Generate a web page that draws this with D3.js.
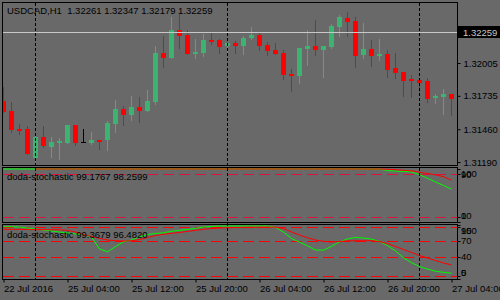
<!DOCTYPE html>
<html>
<head>
<meta charset="utf-8">
<title>USDCAD,H1</title>
<style>
  body { margin: 0; background: #696969; }
  svg { display: block; }
  text { font-family: "Liberation Sans", Arial, sans-serif; font-size: 9.5px; fill: #000; }
</style>
</head>
<body>
<script src="https://d3js.org/d3.v7.min.js"></script>
<script>
// USDCAD H1 bars, 22 Jul 2016 20:00 .. 27 Jul 04:00
var opens  = [1.31695,1.31608,1.31464,1.31460,1.31226,1.31399,1.31314,1.31347,1.31349,1.31495,
              1.31352,1.31344,1.31371,1.31369,1.31503,1.31627,1.31577,1.31643,1.31610,1.31687,
              1.32090,1.32049,1.32279,1.32238,1.32082,1.32090,1.32197,1.32197,1.32148,1.32172,
              1.32148,1.32213,1.32238,1.32156,1.32115,1.32090,1.31917,1.31901,1.32123,1.32148,
              1.32115,1.32139,1.32304,1.32376,1.32351,1.32073,1.32120,1.32065,1.32082,1.31966,
              1.31934,1.31876,1.31868,1.31859,1.31720,1.31728,1.31752];
var highs  = [1.31805,1.31684,1.31503,1.31487,1.31418,1.31487,1.31399,1.31388,1.31495,1.31495,
              1.31462,1.31437,1.31371,1.31528,1.31701,1.31651,1.31731,1.31725,1.31785,1.32145,
              1.32227,1.32384,1.32414,1.32277,1.32203,1.32241,1.32255,1.32205,1.32172,1.32189,
              1.32227,1.32301,1.32252,1.32178,1.32172,1.32115,1.31956,1.32129,1.32277,1.32359,
              1.32148,1.32326,1.32400,1.32425,1.32384,1.32334,1.32194,1.32203,1.32112,1.32090,
              1.31934,1.31909,1.31868,1.31884,1.31752,1.31794,1.31752];
var lows   = [1.31604,1.31440,1.31423,1.31256,1.31201,1.31311,1.31234,1.31218,1.31346,1.31330,
              1.31352,1.31338,1.31300,1.31289,1.31440,1.31495,1.31536,1.31522,1.31610,1.31670,
              1.31972,1.32049,1.32131,1.32082,1.32049,1.32065,1.32164,1.32090,1.32090,1.32090,
              1.32082,1.32205,1.32115,1.32073,1.32082,1.31876,1.31777,1.31843,1.31991,1.32073,
              1.31892,1.32131,1.32230,1.32230,1.31975,1.32049,1.31983,1.32032,1.31892,1.31884,
              1.31736,1.31728,1.31777,1.31687,1.31678,1.31588,1.31580];
var closes = [1.31604,1.31456,1.31448,1.31256,1.31399,1.31325,1.31355,1.31363,1.31495,1.31347,
              1.31352,1.31371,1.31355,1.31511,1.31627,1.31577,1.31643,1.31610,1.31692,1.32090,
              1.32049,1.32279,1.32230,1.32082,1.32098,1.32194,1.32180,1.32139,1.32172,1.32148,
              1.32211,1.32238,1.32148,1.32106,1.32082,1.31909,1.31901,1.32129,1.32148,1.32115,
              1.32148,1.32310,1.32384,1.32345,1.32065,1.32120,1.32065,1.32082,1.31950,1.31925,
              1.31859,1.31859,1.31843,1.31711,1.31736,1.31752,1.31711];

// doda-stochastic (window 1)
var stoch1Main = [100,100,100,100,100,100,100,100,100,100,100,100,100,100,100,100,100,100,100,100,
                  100,100,100,100,100,100,100,100,100,100,100,100,100,100,100,100,100,100,100,100,
                  100,100,100,100,100,100,100,100,97,96,95.5,94.5,89.5,82.5,75.5,69,62];
var stoch1Sig  = [null,null,null,null,100,100,100,100,100,100,100,100,100,100,100,100,100,100,100,100,
                  100,100,100,100,100,100,100,100,100,100,100,100,100,100,100,100,100,100,100,100,
                  100,100,100,100,100,100,100,100,99.5,98.7,97.5,96.5,94,91.5,89,85.5,79];
// doda-stochastic (window 2)
var stoch2Main = [96.1,96.1,95.5,93.7,91.8,90.0,88.1,86.3,84.5,82.6,81.7,77.1,54.9,49.9,59.1,68.4,71.5,77.1,81.7,83.5,
                  84.8,87.6,89.4,90.9,93.1,95.5,96.5,97.4,97.4,97.4,97.4,97.4,97.4,97.4,94.9,86.3,74.3,67.8,60.8,53.0,
                  52.7,59.7,68.0,73.5,76.3,75.2,73.2,68.9,61.4,51.4,38.8,29.6,22.5,17.9,13.9,11.8,10.0];
var stoch2Sig  = [91.3,91.2,91.1,91.0,90.8,90.7,90.5,90.4,89.4,86.3,81.7,78.0,74.7,71.5,70.2,69.7,70.2,72.4,76.1,79.8,
                  82.1,83.9,85.4,87.6,89.4,91.3,92.8,93.7,94.2,94.6,94.9,95.1,95.2,95.3,95.2,92.8,86.3,80.8,75.6,71.5,
                  69.1,67.8,68.7,70.0,70.2,70.2,70.2,68.7,65.0,59.5,54.0,48.4,42.9,38.3,33.6,29.0,25.3];

var priceTicks = [1.32005, 1.31735, 1.31460, 1.31190];
var bidPrice = 1.32259;
var levels1 = [90, 10];
var levels2 = [95, 70, 40, 5];
var labels1 = [100, 90, 10, 0];
var labels2 = [100, 95, 70, 40, 5, 0];
var timeIdx = [0, 8, 16, 24, 32, 40, 48, 56];
var timeLabels = ["22 Jul 2016", "25 Jul 04:00", "25 Jul 12:00", "25 Jul 20:00",
                  "26 Jul 04:00", "26 Jul 12:00", "26 Jul 20:00", "27 Jul 04:00"];
var daySeps = [4, 28, 52];

var width = 500, height = 300;
var green = "#3cb371", red = "#ff0000";

var svg = d3.select("body").append("svg")
    .attr("width", width).attr("height", height);

var x = d3.scaleLinear().domain([0, 56]).range([3.5, 451.5]);
var yMain = d3.scaleLinear().domain([1.311656, 1.324989]).range([165, 3]);
var y1 = d3.scaleLinear().domain([0, 100]).range([222, 169]);
var y2 = d3.scaleLinear().domain([0, 100]).range([278.7, 224.6]);

// panels: [top, bottom]
var panels = [[2.5, 165.5], [167.5, 222.5], [224.5, 279.5]];
var defs = svg.append("defs");
panels.forEach(function (p, i) {
    defs.append("clipPath").attr("id", "clip" + i)
        .append("rect").attr("x", 3).attr("y", p[0] + 0.5)
        .attr("width", 454).attr("height", p[1] - p[0] - 1);
});

var bars = d3.range(opens.length).map(function (i) {
    return { i: i, o: opens[i], h: highs[i], l: lows[i], c: closes[i] };
});
function barColor(d) {
    if (d.c > d.o) return green;
    if (d.c < d.o) return red;
    return "#000";
}

// main chart
var gMain = svg.append("g").attr("clip-path", "url(#clip0)");

gMain.selectAll("line.wick")
    .data(bars)
    .enter()
    .append("line")
    .attr("class", "wick")
    .attr("x1", function (d) { return x(d.i); })
    .attr("x2", function (d) { return x(d.i); })
    .attr("y1", function (d) { return Math.round(yMain(d.h)); })
    .attr("y2", function (d) { return Math.round(yMain(d.l)) + 1; })
    .attr("stroke", barColor)
    .attr("shape-rendering", "crispEdges");

gMain.selectAll("rect.body")
    .data(bars)
    .enter()
    .append("rect")
    .attr("class", "body")
    .attr("x", function (d) { return x(d.i) - 2.5; })
    .attr("width", 5)
    .attr("y", function (d) { return Math.round(yMain(Math.max(d.o, d.c))); })
    .attr("height", function (d) {
        return Math.max(1, Math.round(yMain(Math.min(d.o, d.c))) - Math.round(yMain(Math.max(d.o, d.c))));
    })
    .attr("fill", barColor)
    .attr("shape-rendering", "crispEdges");

// bid line
var yBid = Math.round(yMain(bidPrice)) + 0.5;
svg.append("line")
    .attr("x1", 3).attr("x2", 457)
    .attr("y1", yBid).attr("y2", yBid)
    .attr("stroke", "#c8c8c8");

// level lines
var g1 = svg.append("g").attr("clip-path", "url(#clip1)");
var g2 = svg.append("g").attr("clip-path", "url(#clip2)");

g1.selectAll("line.level")
    .data(levels1)
    .enter()
    .append("line")
    .attr("x1", 3).attr("x2", 457)
    .attr("y1", function (d) { return Math.round(y1(d)) + 0.5; })
    .attr("y2", function (d) { return Math.round(y1(d)) + 0.5; })
    .attr("stroke", "#dc143c")
    .attr("stroke-dasharray", "11,5");

g2.selectAll("line.level")
    .data(levels2)
    .enter()
    .append("line")
    .attr("x1", 3).attr("x2", 457)
    .attr("y1", function (d) { return Math.round(y2(d)) + 0.5; })
    .attr("y2", function (d) { return Math.round(y2(d)) + 0.5; })
    .attr("stroke", red)
    .attr("stroke-dasharray", "11,5");

// stochastic lines
function stochLine(ys) {
    return d3.line()
        .defined(function (d) { return d != null; })
        .x(function (d, i) { return x(i); })
        .y(function (d) { return ys(d); });
}
g1.append("path").datum(stoch1Main)
    .attr("d", stochLine(y1)).attr("fill", "none").attr("stroke", "#00ff00");
g1.append("path").datum(stoch1Sig)
    .attr("d", stochLine(y1)).attr("fill", "none").attr("stroke", red);
g2.append("path").datum(stoch2Main)
    .attr("d", stochLine(y2)).attr("fill", "none").attr("stroke", "#00ff00");
g2.append("path").datum(stoch2Sig)
    .attr("d", stochLine(y2)).attr("fill", "none").attr("stroke", red);

// day separators
svg.selectAll("line.sep")
    .data(daySeps)
    .enter()
    .append("line")
    .attr("x1", function (d) { return x(d); })
    .attr("x2", function (d) { return x(d); })
    .attr("y1", 3).attr("y2", 279)
    .attr("stroke", "#000")
    .attr("stroke-dasharray", "3,2");

// panel borders
svg.selectAll("rect.panel")
    .data(panels)
    .enter()
    .append("rect")
    .attr("x", 2.5).attr("width", 455)
    .attr("y", function (d) { return d[0]; })
    .attr("height", function (d) { return d[1] - d[0]; })
    .attr("fill", "none")
    .attr("stroke", "#000")
    .attr("shape-rendering", "crispEdges");

// header texts
svg.append("text").attr("x", 7).attr("y", 14.3)
    .style("white-space", "pre")
    .text("USDCAD,H1  1.32261 1.32347 1.32179 1.32259");
svg.append("text").attr("x", 7).attr("y", 180)
    .text("doda-stochastic 99.1767 98.2599");
svg.append("text").attr("x", 7).attr("y", 237.5)
    .text("doda-stochastic 99.3679 96.4820");

// price axis
var priceAxis = d3.axisRight(yMain)
    .tickValues(priceTicks)
    .tickSize(3)
    .tickPadding(3)
    .tickFormat(d3.format(".5f"));
var gPrice = svg.append("g").attr("transform", "translate(457.5,0)").call(priceAxis);
gPrice.select(".domain").remove();
gPrice.selectAll("line").attr("stroke", "#000");
gPrice.selectAll("text").attr("fill", "#000")
    .style("font-family", "Liberation Sans, Arial, sans-serif").style("font-size", "9.5px");

// bid label
svg.append("rect")
    .attr("x", 458).attr("y", yBid - 6.5)
    .attr("width", 42).attr("height", 12)
    .attr("fill", "#000");
svg.append("text")
    .attr("x", 463).attr("y", yBid + 3.3)
    .style("fill", "#c8c8c8")
    .text(d3.format(".5f")(bidPrice));

// sub-window scales (labels kept inside the window like the terminal does)
function subLabels(values, ys, top, bottom) {
    var g = svg.append("g");
    g.selectAll("line")
        .data(values)
        .enter()
        .append("line")
        .attr("x1", 457.5).attr("x2", 460.5)
        .attr("y1", function (d) { return Math.round(ys(d)) + 0.5; })
        .attr("y2", function (d) { return Math.round(ys(d)) + 0.5; })
        .attr("stroke", "#000");
    g.selectAll("text")
        .data(values)
        .enter()
        .append("text")
        .attr("x", 461)
        .attr("y", function (d) {
            var c = Math.min(Math.max(ys(d), top + 6), bottom - 6.5);
            return c + 3.3;
        })
        .text(function (d) { return d; });
}
subLabels(labels1, y1, panels[1][0], panels[1][1]);
subLabels(labels2, y2, panels[2][0], panels[2][1]);

// time axis
var timeAxis = d3.axisBottom(x)
    .tickValues(timeIdx)
    .tickSize(3)
    .tickPadding(3)
    .tickFormat(function (d, i) { return timeLabels[i]; });
var gTime = svg.append("g").attr("transform", "translate(0,279.5)").call(timeAxis);
gTime.select(".domain").remove();
gTime.selectAll("line").attr("stroke", "#000");
gTime.selectAll("text")
    .attr("text-anchor", "start")
    .attr("x", 0)
    .attr("fill", "#000")
    .style("font-family", "Liberation Sans, Arial, sans-serif").style("font-size", "9.5px");
</script>
</body>
</html>
